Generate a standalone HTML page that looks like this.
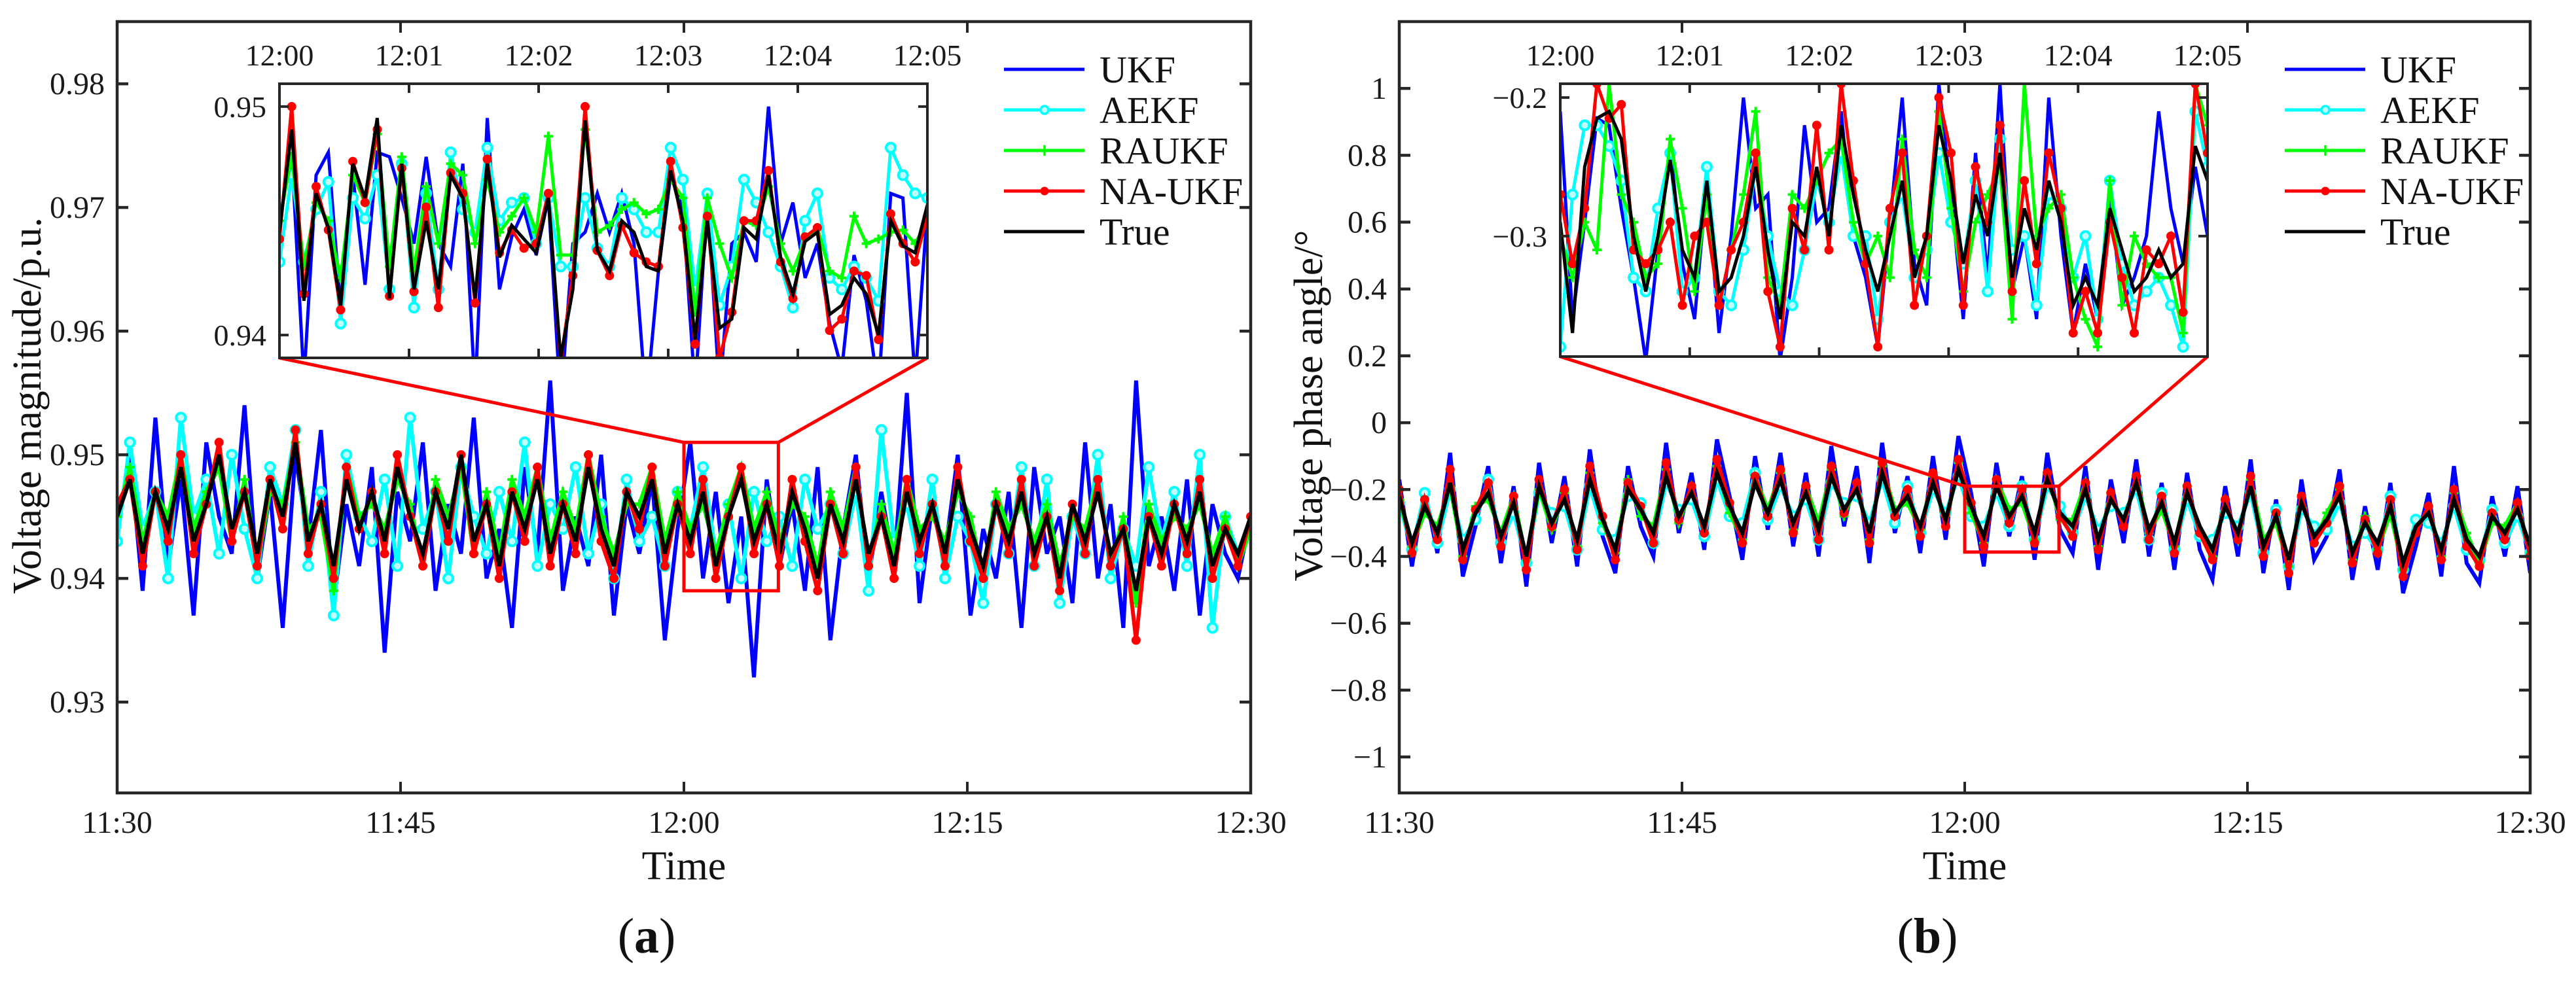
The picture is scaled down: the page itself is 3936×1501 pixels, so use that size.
<!DOCTYPE html>
<html><head><meta charset="utf-8">
<style>
html,body{margin:0;padding:0;background:#fff;}
svg, svg text{font-family:"Liberation Serif","Times New Roman",Times,"DejaVu Serif",serif;}
</style></head>
<body>
<svg id="fig" width="3936" height="1496" viewBox="0 0 3936 1496" xmlns="http://www.w3.org/2000/svg">
<rect x="0" y="0" width="3936" height="1496" fill="#fff"/>
</svg>
<script>
// ---------- labels & ticks ----------
const mainTimesLabels = ["11:30","11:45","12:00","12:15","12:30"];
const insetTimesLabels = ["12:00","12:01","12:02","12:03","12:04","12:05"];
const aTicks = [0.93,0.94,0.95,0.96,0.97,0.98];
const aInsetTicks = [0.94,0.95];
const bTicks = [-1,-0.8,-0.6,-0.4,-0.2,0,0.2,0.4,0.6,0.8,1];
const bInsetTicks = [-0.3,-0.2];
const seriesNames = ["UKF","AEKF","RAUKF","NA-UKF","True"];

// ---------- Panel (a) data: voltage magnitude (p.u.) ----------
const aUKF = [0.944,0.950,0.939,0.953,0.941,0.948,0.937,0.951,0.945,0.942,0.954,0.940,0.947,0.936,0.950,0.943,0.952,0.938,0.946,0.941,0.949,0.934,0.947,0.943,0.951,0.939,0.946,0.942,0.953,0.940,
0.944,0.936,0.949,0.942,0.956,0.939,0.945,0.941,0.950,0.937,0.946,0.942,0.948,0.935,0.944,0.951,0.940,0.947,0.938,0.945,0.932,0.948,0.941,0.946,0.939,0.949,0.935,0.944,0.950,0.940,
0.947,0.941,0.955,0.938,0.946,0.942,0.950,0.937,0.944,0.940,0.947,0.936,0.949,0.942,0.945,0.938,0.951,0.940,0.946,0.936,0.956,0.941,0.945,0.939,0.948,0.937,0.946,0.942,0.940,0.945];
const aAEKF = [0.943,0.951,0.944,0.947,0.940,0.953,0.945,0.948,0.942,0.950,0.944,0.940,0.949,0.946,0.952,0.941,0.947,0.937,0.950,0.945,0.943,0.948,0.941,0.953,0.944,0.947,0.940,0.949,0.945,0.942,
0.947,0.943,0.951,0.941,0.946,0.944,0.949,0.942,0.946,0.940,0.948,0.943,0.945,0.941,0.947,0.944,0.949,0.942,0.946,0.940,0.947,0.943,0.945,0.941,0.948,0.944,0.946,0.942,0.947,0.939,
0.952,0.943,0.946,0.941,0.948,0.940,0.945,0.943,0.938,0.946,0.942,0.949,0.941,0.948,0.938,0.945,0.942,0.950,0.940,0.944,0.941,0.949,0.943,0.947,0.941,0.950,0.936,0.945,0.942,0.944];
const aRAUKF = [0.945,0.949,0.943,0.947,0.945,0.950,0.944,0.947,0.949,0.943,0.948,0.941,0.947,0.946,0.951,0.944,0.945,0.939,0.949,0.945,0.946,0.944,0.948,0.946,0.941,0.948,0.945,0.949,0.942,0.947,
0.942,0.948,0.945,0.949,0.943,0.947,0.944,0.950,0.945,0.942,0.946,0.946,0.949,0.943,0.947,0.944,0.946,0.942,0.946,0.949,0.944,0.947,0.943,0.946,0.945,0.941,0.947,0.944,0.949,0.941,
0.946,0.942,0.948,0.944,0.945,0.943,0.947,0.945,0.940,0.947,0.944,0.946,0.943,0.946,0.941,0.945,0.944,0.948,0.941,0.945,0.938,0.946,0.943,0.945,0.944,0.946,0.942,0.945,0.941,0.944];
const aNAUKF = [0.946,0.948,0.941,0.947,0.943,0.950,0.942,0.946,0.951,0.943,0.947,0.941,0.948,0.944,0.952,0.942,0.946,0.940,0.949,0.944,0.947,0.942,0.950,0.945,0.941,0.947,0.943,0.950,0.942,0.946,
0.940,0.947,0.943,0.949,0.941,0.946,0.942,0.950,0.943,0.940,0.947,0.944,0.949,0.941,0.946,0.942,0.948,0.940,0.945,0.949,0.942,0.946,0.941,0.948,0.943,0.939,0.946,0.942,0.949,0.941,
0.945,0.940,0.948,0.942,0.946,0.941,0.949,0.943,0.940,0.946,0.942,0.948,0.941,0.945,0.939,0.946,0.942,0.948,0.941,0.944,0.935,0.945,0.941,0.946,0.942,0.948,0.940,0.944,0.941,0.945];
const aTrue = [0.945,0.948,0.942,0.947,0.944,0.949,0.943,0.946,0.950,0.944,0.947,0.942,0.948,0.945,0.951,0.943,0.946,0.941,0.948,0.944,0.947,0.943,0.949,0.945,0.942,0.947,0.944,0.950,0.943,0.946,
0.941,0.947,0.944,0.948,0.942,0.946,0.943,0.949,0.944,0.941,0.947,0.945,0.948,0.942,0.946,0.943,0.947,0.941,0.945,0.948,0.943,0.946,0.942,0.947,0.944,0.940,0.946,0.943,0.948,0.942,
0.945,0.941,0.947,0.943,0.946,0.942,0.948,0.944,0.941,0.946,0.943,0.947,0.942,0.945,0.940,0.946,0.943,0.947,0.942,0.944,0.939,0.945,0.942,0.946,0.943,0.947,0.941,0.944,0.942,0.945];

const aInUKF = [.9450,.9480,.9380,.9470,.9480,.9412,.9470,.9422,.9480,.9478,.9460,.9440,.9478,.9440,.9430,.9475,.9375,.9495,.9420,.9443,.9455,.9435,.9460,.9370,.9440,.9445,.9462,.9445,.9462,.9440,.9370,.9428,.9470,.9455,.9375,.9460,.9375,.9440,.9445,.9432,.9500,.9440,.9458,.9425,.9440,.9405,.9385,.9435,.9415,.9375,.9462,.9460,.9380,.9455];
const aInAEKF = [.9432,.9470,.9432,.9455,.9467,.9405,.9460,.9451,.9470,.9420,.9475,.9412,.9462,.9420,.9480,.9455,.9445,.9482,.9450,.9458,.9460,.9440,.9460,.9430,.9430,.9460,.9438,.9430,.9460,.9455,.9445,.9445,.9482,.9468,.9420,.9462,.9413,.9430,.9468,.9458,.9445,.9430,.9412,.9450,.9462,.9425,.9420,.9430,.9425,.9415,.9482,.9470,.9462,.9460];
const aInRAUKF = [.9450,.9478,.9430,.9458,.9450,.9425,.9470,.9458,.9488,.9430,.9478,.9428,.9465,.9440,.9475,.9470,.9440,.9468,.9445,.9452,.9460,.9445,.9487,.9435,.9435,.9490,.9445,.9448,.9455,.9458,.9453,.9455,.9468,.9460,.9410,.9460,.9440,.9425,.9450,.9448,.9465,.9440,.9428,.9442,.9447,.9428,.9425,.9452,.9440,.9442,.9445,.9446,.9440,.9450];
const aInNAUKF = [.9442,.9500,.9418,.9465,.9446,.9411,.9476,.9458,.9490,.9417,.9473,.9419,.9456,.9412,.9471,.9462,.9414,.9477,.9436,.9446,.9438,.9440,.9462,.9388,.9426,.9500,.9437,.9426,.9448,.9436,.9432,.9430,.9476,.9447,.9396,.9452,.9390,.9410,.9450,.9450,.9472,.9432,.9416,.9443,.9447,.9402,.9407,.9428,.9426,.9398,.9453,.9440,.9432,.9452];
const aInTrue = [.9445,.9490,.9415,.9462,.9447,.9413,.9475,.9460,.9495,.9416,.9475,.9420,.9450,.9420,.9470,.9460,.9416,.9475,.9434,.9448,.9442,.9436,.9460,.9390,.9420,.9494,.9437,.9428,.9450,.9445,.9430,.9428,.9472,.9450,.9398,.9450,.9403,.9407,.9447,.9442,.9470,.9434,.9418,.9441,.9445,.9409,.9413,.9425,.9418,.9400,.9450,.9439,.9436,.9457];

// ---------- Panel (b) data: voltage phase angle (deg) ----------
const bUKF = [-0.17,-0.43,-0.20,-0.39,-0.09,-0.46,-0.31,-0.13,-0.42,-0.19,-0.49,-0.12,-0.36,-0.16,-0.43,-0.08,-0.34,-0.45,-0.13,-0.31,-0.40,-0.06,-0.33,-0.15,-0.38,-0.05,-0.22,-0.41,-0.10,-0.32,
-0.09,-0.37,-0.15,-0.40,-0.07,-0.31,-0.13,-0.42,-0.06,-0.33,-0.16,-0.39,-0.10,-0.35,-0.04,-0.21,-0.43,-0.12,-0.34,-0.16,-0.41,-0.09,-0.32,-0.39,-0.13,-0.44,-0.17,-0.36,-0.11,-0.40,
-0.18,-0.44,-0.15,-0.38,-0.47,-0.19,-0.40,-0.11,-0.45,-0.23,-0.50,-0.17,-0.41,-0.34,-0.14,-0.47,-0.25,-0.44,-0.18,-0.51,-0.37,-0.21,-0.46,-0.13,-0.42,-0.48,-0.22,-0.40,-0.19,-0.45];
const bAEKF = [-0.24,-0.38,-0.21,-0.36,-0.20,-0.35,-0.29,-0.17,-0.36,-0.27,-0.42,-0.21,-0.27,-0.25,-0.38,-0.19,-0.32,-0.35,-0.22,-0.24,-0.36,-0.18,-0.26,-0.23,-0.34,-0.17,-0.28,-0.30,-0.15,-0.29,
-0.19,-0.28,-0.23,-0.35,-0.18,-0.24,-0.22,-0.30,-0.17,-0.30,-0.19,-0.33,-0.20,-0.27,-0.16,-0.28,-0.31,-0.21,-0.31,-0.19,-0.35,-0.19,-0.25,-0.33,-0.22,-0.32,-0.25,-0.27,-0.20,-0.35,
-0.21,-0.38,-0.23,-0.34,-0.35,-0.27,-0.31,-0.21,-0.39,-0.26,-0.43,-0.26,-0.31,-0.32,-0.24,-0.37,-0.33,-0.38,-0.22,-0.44,-0.29,-0.30,-0.36,-0.25,-0.38,-0.41,-0.26,-0.36,-0.28,-0.39];
const bRAUKF = [-0.23,-0.37,-0.27,-0.31,-0.19,-0.40,-0.25,-0.23,-0.33,-0.22,-0.41,-0.20,-0.32,-0.21,-0.37,-0.15,-0.30,-0.39,-0.17,-0.28,-0.31,-0.14,-0.30,-0.19,-0.33,-0.13,-0.27,-0.35,-0.16,-0.26,
-0.15,-0.32,-0.19,-0.30,-0.14,-0.28,-0.18,-0.35,-0.13,-0.26,-0.24,-0.32,-0.16,-0.31,-0.12,-0.27,-0.36,-0.17,-0.26,-0.24,-0.35,-0.15,-0.29,-0.29,-0.18,-0.37,-0.21,-0.31,-0.16,-0.33,
-0.26,-0.37,-0.19,-0.33,-0.40,-0.23,-0.35,-0.17,-0.35,-0.30,-0.43,-0.22,-0.36,-0.27,-0.20,-0.41,-0.28,-0.38,-0.27,-0.44,-0.33,-0.25,-0.40,-0.21,-0.33,-0.42,-0.30,-0.31,-0.24,-0.39];
const bNAUKF = [-0.20,-0.39,-0.23,-0.35,-0.14,-0.41,-0.26,-0.18,-0.37,-0.22,-0.44,-0.17,-0.31,-0.20,-0.38,-0.13,-0.28,-0.41,-0.18,-0.25,-0.36,-0.12,-0.29,-0.19,-0.33,-0.11,-0.24,-0.36,-0.16,-0.28,
-0.14,-0.33,-0.19,-0.35,-0.13,-0.27,-0.18,-0.36,-0.12,-0.28,-0.20,-0.34,-0.15,-0.31,-0.11,-0.24,-0.37,-0.17,-0.30,-0.20,-0.36,-0.15,-0.28,-0.34,-0.18,-0.38,-0.21,-0.31,-0.16,-0.35,
-0.22,-0.39,-0.19,-0.33,-0.41,-0.23,-0.35,-0.16,-0.40,-0.27,-0.45,-0.22,-0.36,-0.30,-0.19,-0.42,-0.29,-0.39,-0.23,-0.46,-0.33,-0.25,-0.41,-0.20,-0.37,-0.43,-0.27,-0.35,-0.24,-0.40];
const bTrue = [-0.22,-0.36,-0.25,-0.33,-0.18,-0.38,-0.27,-0.21,-0.34,-0.24,-0.40,-0.19,-0.30,-0.23,-0.35,-0.17,-0.29,-0.38,-0.20,-0.26,-0.33,-0.16,-0.28,-0.21,-0.31,-0.15,-0.25,-0.33,-0.18,-0.27,
-0.17,-0.30,-0.21,-0.32,-0.16,-0.26,-0.20,-0.33,-0.15,-0.27,-0.22,-0.31,-0.18,-0.29,-0.14,-0.25,-0.34,-0.19,-0.28,-0.22,-0.33,-0.17,-0.27,-0.31,-0.20,-0.35,-0.23,-0.29,-0.18,-0.32,
-0.24,-0.36,-0.21,-0.31,-0.38,-0.25,-0.33,-0.19,-0.37,-0.28,-0.41,-0.24,-0.34,-0.29,-0.22,-0.39,-0.30,-0.36,-0.25,-0.42,-0.31,-0.27,-0.38,-0.23,-0.35,-0.40,-0.28,-0.33,-0.26,-0.37];

const bInUKF = [-0.21,-0.36,-0.29,-0.215,-0.22,-0.28,-0.33,-0.39,-0.31,-0.235,-0.32,-0.36,-0.26,-0.37,-0.30,-0.20,-0.28,-0.27,-0.39,-0.33,-0.22,-0.29,-0.28,-0.21,-0.30,-0.33,-0.38,-0.29,-0.20,-0.32,-0.35,-0.19,-0.27,-0.36,-0.24,-0.33,-0.19,-0.34,-0.30,-0.36,-0.20,-0.30,-0.37,-0.32,-0.36,-0.27,-0.35,-0.33,-0.30,-0.21,-0.28,-0.32,-0.25,-0.30];
const bInAEKF = [-0.38,-0.27,-0.22,-0.22,-0.235,-0.26,-0.33,-0.34,-0.28,-0.24,-0.34,-0.33,-0.25,-0.34,-0.35,-0.31,-0.25,-0.30,-0.34,-0.35,-0.31,-0.26,-0.29,-0.24,-0.30,-0.30,-0.36,-0.29,-0.27,-0.33,-0.31,-0.24,-0.29,-0.32,-0.26,-0.34,-0.23,-0.31,-0.30,-0.35,-0.27,-0.28,-0.33,-0.30,-0.36,-0.26,-0.32,-0.35,-0.34,-0.33,-0.35,-0.38,-0.21,-0.25];
const bInRAUKF = [-0.30,-0.33,-0.29,-0.31,-0.19,-0.27,-0.29,-0.33,-0.32,-0.23,-0.28,-0.34,-0.27,-0.35,-0.31,-0.27,-0.21,-0.33,-0.35,-0.27,-0.28,-0.26,-0.24,-0.23,-0.29,-0.32,-0.30,-0.33,-0.23,-0.31,-0.33,-0.21,-0.28,-0.34,-0.29,-0.27,-0.25,-0.36,-0.19,-0.30,-0.28,-0.27,-0.33,-0.36,-0.38,-0.26,-0.35,-0.30,-0.32,-0.33,-0.33,-0.37,-0.19,-0.22];
const bInNAUKF = [-0.27,-0.32,-0.28,-0.19,-0.215,-0.205,-0.31,-0.32,-0.31,-0.29,-0.35,-0.30,-0.29,-0.35,-0.31,-0.29,-0.24,-0.34,-0.38,-0.28,-0.31,-0.22,-0.31,-0.19,-0.26,-0.32,-0.38,-0.28,-0.24,-0.35,-0.30,-0.20,-0.24,-0.35,-0.25,-0.29,-0.22,-0.34,-0.26,-0.32,-0.24,-0.28,-0.37,-0.34,-0.37,-0.29,-0.33,-0.37,-0.31,-0.32,-0.30,-0.355,-0.19,-0.24];
const bInTrue = [-0.29,-0.37,-0.25,-0.215,-0.21,-0.23,-0.30,-0.34,-0.30,-0.245,-0.31,-0.33,-0.26,-0.34,-0.33,-0.30,-0.25,-0.31,-0.36,-0.29,-0.30,-0.25,-0.30,-0.22,-0.27,-0.31,-0.34,-0.30,-0.26,-0.33,-0.30,-0.22,-0.26,-0.32,-0.27,-0.30,-0.24,-0.33,-0.28,-0.31,-0.26,-0.29,-0.35,-0.33,-0.35,-0.28,-0.31,-0.34,-0.33,-0.31,-0.33,-0.32,-0.235,-0.26];

const NS = "http://www.w3.org/2000/svg";
const FONT = '"Liberation Serif", "Times New Roman", Times, "DejaVu Serif", serif';
const svg = document.getElementById("fig");
const colors = {"UKF":"#0000ff","AEKF":"#00ffff","RAUKF":"#00ff00","NA-UKF":"#ff0000","True":"#000000"};
function mk(tag, attrs, parent){
  const e = document.createElementNS(NS, tag);
  for (const k in attrs) e.setAttribute(k, attrs[k]);
  if (tag === "text") e.style.fontFamily = FONT;
  (parent||svg).appendChild(e);
  return e;
}
function fmt(v){ return (v<0?"\u2212":"") + String(Math.abs(Math.round(v*100)/100)); }
function linear(d0,d1,r0,r1){ return v => r0 + (v-d0)/(d1-d0)*(r1-r0); }

function drawSeries(g, name, vals, xs, ys, clipId, lw){
  const grp = mk("g", clipId?{"clip-path":"url(#"+clipId+")"}:{}, g);
  
  
  const pts = vals.map((v,i)=>xs(i).toFixed(1)+","+ys(v).toFixed(1)).join(" ");
  const pl = mk("polyline", {points:pts, fill:"none", stroke:colors[name], "stroke-width":lw, "stroke-linejoin":"miter"}, grp);
  
  
  vals.forEach((v,i)=>{
    const x = xs(i), y = ys(v);
    if (name==="AEKF"){
      const c = mk("circle",{cx:x,cy:y,r:7,fill:"#bfffff",stroke:colors[name],"stroke-width":4},grp);
      
      
    } else if (name==="NA-UKF"){
      const c = mk("circle",{cx:x,cy:y,r:7,fill:colors[name]},grp);
      
      
    } else if (name==="RAUKF"){
      const p = mk("path",{d:`M${x-7},${y}H${x+7}M${x},${y-7}V${y+7}`,stroke:colors[name],"stroke-width":4},grp);
      
      
    }
  });
}

function panel(cfg){
  const g = mk("g",{});
  
  
  const {L,R,T,B} = cfg;
  const xT = linear(0,60,L,R);
  const yS = linear(cfg.yMin,cfg.yMax,B,T);
  const n = cfg.main[0].length;
  const xi = i => xT(i*60/(n-1));
  const defs = mk("defs",{},g);
  const cp = mk("clipPath",{id:cfg.id+"-clip"},defs);
  mk("rect",{x:L,y:T,width:R-L,height:B-T},cp);
  const cpi = mk("clipPath",{id:cfg.id+"-iclip"},defs);
  mk("rect",{x:cfg.iL,y:cfg.iT,width:cfg.iR-cfg.iL,height:cfg.iB-cfg.iT},cpi);

  seriesNames.forEach((nm,k)=>drawSeries(g,nm,cfg.main[k],xi,yS,cfg.id+"-clip",6));

  const box = mk("rect",{x:L,y:T,width:R-L,height:B-T,fill:"none",stroke:"#262626","stroke-width":4.5},g);
  
  
  cfg.yTicks.forEach(v=>{
    const y = yS(v);
    mk("path",{d:`M${L},${y}h17M${R},${y}h-17`,stroke:"#262626","stroke-width":4.5},g);
    const t = mk("text",{x:L-19,y:y+16,"font-size":48,"text-anchor":"end",fill:"#1a1a1a"},g);
    t.textContent = cfg.yFmt(v);
    
    
  });
  mainTimesLabels.forEach((lab,k)=>{
    const x = xT(k*15);
    mk("path",{d:`M${x},${B}v-17M${x},${T}v17`,stroke:"#262626","stroke-width":4},g);
    const t = mk("text",{x:x,y:1273,"font-size":48,"text-anchor":"middle",fill:"#1a1a1a"},g);
    t.textContent = lab;
    
    
  });
  const zx0 = xT(30), zx1 = xT(35), zy0 = yS(cfg.iyMax), zy1 = yS(cfg.iyMin);
  const zr = mk("rect",{x:zx0,y:zy0,width:zx1-zx0,height:zy1-zy0,fill:"none",stroke:"#ff0000","stroke-width":5},g);
  
  
  const cn = mk("path",{d:`M${cfg.iL},${cfg.iB}L${zx0},${zy0}M${cfg.iR},${cfg.iB}L${zx1},${zy0}`,stroke:"#ff0000","stroke-width":5,fill:"none"},g);
  
  

  const ig = mk("g",{},g);
  
  
  mk("rect",{x:cfg.iL,y:cfg.iT,width:cfg.iR-cfg.iL,height:cfg.iB-cfg.iT,fill:"#fff"},ig);
  const ixT = linear(0,5,cfg.iL,cfg.iR);
  const iyS = linear(cfg.iyMin,cfg.iyMax,cfg.iB,cfg.iT);
  const m = cfg.inset[0].length;
  const ixi = i => ixT(i*5/(m-1));
  seriesNames.forEach((nm,k)=>drawSeries(ig,nm,cfg.inset[k],ixi,iyS,cfg.id+"-iclip",5));
  mk("rect",{x:cfg.iL,y:cfg.iT,width:cfg.iR-cfg.iL,height:cfg.iB-cfg.iT,fill:"none",stroke:"#262626","stroke-width":4},ig);
  cfg.iyTicks.forEach(v=>{
    const y = iyS(v);
    mk("path",{d:`M${cfg.iL},${y}h14M${cfg.iR},${y}h-14`,stroke:"#262626","stroke-width":4},ig);
    const t = mk("text",{x:cfg.iL-20,y:y+16,"font-size":46,"text-anchor":"end",fill:"#1a1a1a"},ig);
    t.textContent = cfg.iyFmt(v);
    
    
  });
  insetTimesLabels.forEach((lab,k)=>{
    const x = ixT(k);
    mk("path",{d:`M${x},${cfg.iT}v14M${x},${cfg.iB}v-14`,stroke:"#262626","stroke-width":4},ig);
    const t = mk("text",{x:x,y:100,"font-size":46,"text-anchor":"middle",fill:"#1a1a1a"},ig);
    t.textContent = lab;
    
    
  });

  const lg = mk("g",{},g);
  
  
  seriesNames.forEach((nm,k)=>{
    const y = 106 + k*62;
    const e = mk("g",{},lg);
    
    
    mk("line",{x1:cfg.legX,y1:y,x2:cfg.legX+123,y2:y,stroke:colors[nm],"stroke-width":5},e);
    const cx = cfg.legX+62;
    if (nm==="AEKF") mk("circle",{cx:cx,cy:y,r:6,fill:"#bfffff",stroke:colors[nm],"stroke-width":3.5},e);
    if (nm==="NA-UKF") mk("circle",{cx:cx,cy:y,r:6.5,fill:colors[nm]},e);
    if (nm==="RAUKF") mk("path",{d:`M${cx},${y-8}V${y+8}`,stroke:colors[nm],"stroke-width":3.5},e);
    const t = mk("text",{x:cfg.legX+146,y:y+20,"font-size":58,fill:"#111"},e);
    t.textContent = nm;
  });

  const yt = mk("text",{x:cfg.ytX,y:620,"font-size":62,"text-anchor":"middle",transform:`rotate(-90 ${cfg.ytX} 620)`,fill:"#111"},g);
  yt.textContent = cfg.yTitle;
  
  
  const xt = mk("text",{x:(L+R)/2,y:1344,"font-size":62,"text-anchor":"middle",fill:"#111"},g);
  xt.textContent = "Time";
  
  
  const cap = mk("text",{x:(L+R)/2-57,y:1456,"font-size":76,"text-anchor":"middle",fill:"#111"},g);
  
  
  const s1 = mk("tspan",{},cap); s1.textContent = "(";
  const s2 = mk("tspan",{"font-weight":"bold"},cap); s2.textContent = cfg.letter;
  const s3 = mk("tspan",{},cap); s3.textContent = ")";
}

panel({id:"panel-a", L:179,R:1911,T:33,B:1212, yMin:0.92265, yMax:0.98503,
  yTicks:aTicks, yFmt:v=>v.toFixed(2),
  main:[aUKF,aAEKF,aRAUKF,aNAUKF,aTrue],
  iL:427,iR:1417,iT:128,iB:547, iyMin:0.939, iyMax:0.951, iyTicks:aInsetTicks, iyFmt:v=>v.toFixed(2),
  inset:[aInUKF,aInAEKF,aInRAUKF,aInNAUKF,aInTrue],
  legX:1534, ytX:62, yTitle:"Voltage magnitude/p.u.", letter:"a"});
panel({id:"panel-b", L:2138,R:3866,T:33,B:1212, yMin:-1.1076, yMax:1.2,
  yTicks:bTicks, yFmt:fmt,
  main:[bUKF,bAEKF,bRAUKF,bNAUKF,bTrue],
  iL:2384,iR:3373,iT:128,iB:545, iyMin:-0.387, iyMax:-0.19, iyTicks:bInsetTicks, iyFmt:v=>"\u2212"+Math.abs(v).toFixed(1),
  inset:[bInUKF,bInAEKF,bInRAUKF,bInNAUKF,bInTrue],
  legX:3491, ytX:2020, yTitle:"Voltage phase angle/\u00b0", letter:"b"});
</script>
</body></html>
